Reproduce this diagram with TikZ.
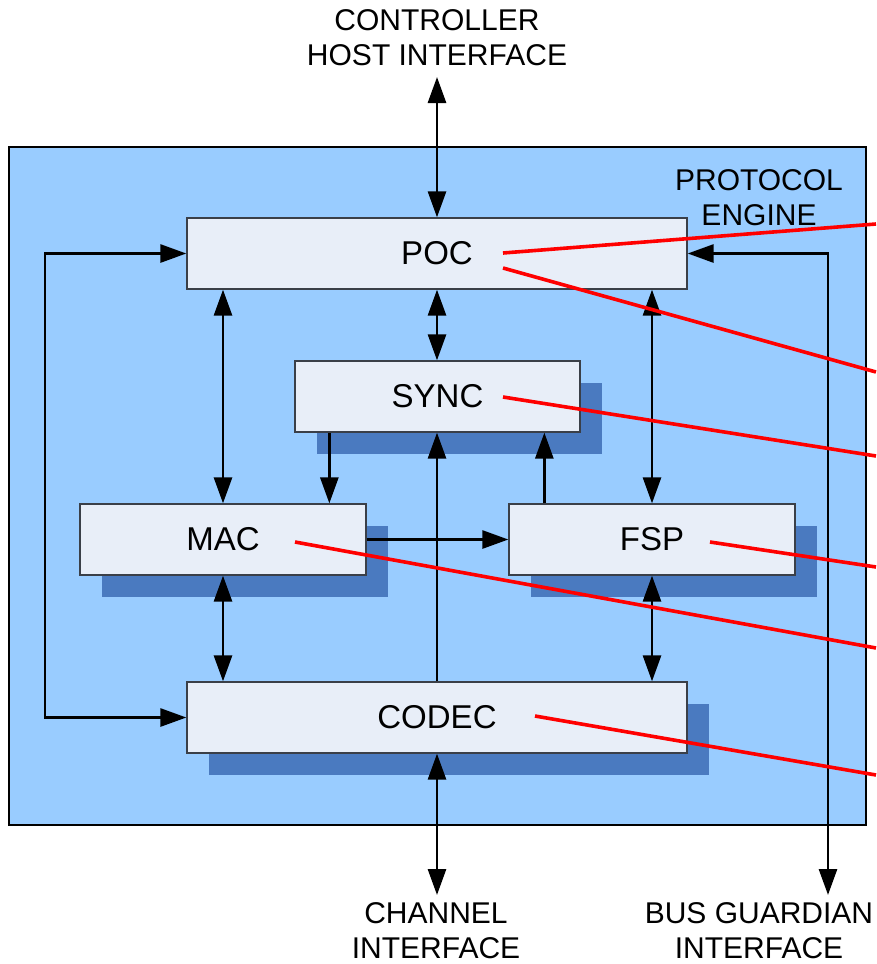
\documentclass[tikz,border=0pt]{standalone}
\usepackage{fontspec}
\setmainfont{Liberation Sans}
\usetikzlibrary{arrows.meta,shadows}
\definecolor{enginefill}{HTML}{99CCFF}
\definecolor{boxfill}{HTML}{E8EEF8}
\definecolor{shadowblue}{HTML}{4A7AC0}
\definecolor{boxline}{HTML}{3A3F48}
\begin{document}
\begin{tikzpicture}[x=1pt,y=-1pt,
  blk/.style={draw=boxline, fill=boxfill, line width=1.3pt, inner sep=0pt,
    minimum height=71pt, font=\fontsize{33}{33}\selectfont},
  shad/.style={general shadow={shadow xshift=22pt, shadow yshift=-22pt, fill=shadowblue}},
  lbl/.style={align=center, inner sep=0pt, font=\fontsize{30}{35}\selectfont},
  conn/.style={line width=2.8pt, -{Triangle[length=26pt,width=18pt]}},
  dconn/.style={line width=2.8pt, {Triangle[length=26pt,width=18pt]}-{Triangle[length=26pt,width=18pt]}},
  redline/.style={draw=red, line width=3.6pt}]
\useasboundingbox (0,0) rectangle (876,964);
% protocol engine area
\node[draw=black, fill=enginefill, line width=1.3pt, minimum width=857pt, minimum height=678pt, inner sep=0pt] (engine) at (437.5,486) {};
\node[lbl] (pelbl) at (759,198) {PROTOCOL\\ENGINE};
% blocks
\node[blk, minimum width=500pt] (poc) at (437,253.5) {POC};
\node[blk, shad, minimum width=285pt] (sync) at (437.5,396.5) {SYNC};
\node[blk, shad, minimum width=286pt] (mac) at (223,539.5) {MAC};
\node[blk, shad, minimum width=286pt] (fsp) at (652,539.5) {FSP};
\node[blk, shad, minimum width=500pt] (codec) at (437,717.5) {CODEC};
% outside labels
\node[lbl] (chilbl) at (437,38) {CONTROLLER\\HOST INTERFACE};
\node[lbl] (chlbl) at (436,931) {CHANNEL\\INTERFACE};
\node[lbl] (bglbl) at (759,931) {BUS GUARDIAN\\INTERFACE};
% free-end coordinates
\coordinate (chi) at (437,77);
\coordinate (chan) at (437,895);
\coordinate (bg) at (828,895);
\coordinate (bgc) at (828,253.5);
\coordinate (lc) at (45,253.5);
\coordinate (s1) at ([xshift=35pt]sync.south west);
\coordinate (f1) at ([xshift=36pt]fsp.north west);
% connectors
\draw[dconn] (chi) -- (poc.north);
\draw[dconn] (poc.south) -- (poc.south |- sync.north);
\draw[dconn] (mac.north) -- (mac.north |- poc.south);
\draw[dconn] (fsp.north) -- (fsp.north |- poc.south);
\draw[dconn] (poc.west) -- (lc) |- (codec.west);
\draw[dconn] (poc.east) -- (bgc) -- (bg);
\draw[conn] (s1) -- (s1 |- mac.north);
\draw[conn] (codec.north) -- (codec.north |- sync.south);
\draw[conn] (f1) -- (f1 |- sync.south);
\draw[conn] (mac.east) -- (fsp.west);
\draw[dconn] (mac.south) -- (mac.south |- codec.north);
\draw[dconn] (fsp.south) -- (fsp.south |- codec.north);
\draw[dconn] (codec.south) -- (chan);
% red callout lines
\coordinate (r1a) at (503,253);  \coordinate (r1b) at (876,224);
\coordinate (r2a) at (503,268);  \coordinate (r2b) at (876,372);
\coordinate (r3a) at (503,397);  \coordinate (r3b) at (876,456);
\coordinate (r4a) at (710,542);  \coordinate (r4b) at (876,567);
\coordinate (r5a) at (295,542);  \coordinate (r5b) at (876,648);
\coordinate (r6a) at (535,716);  \coordinate (r6b) at (876,775);
\draw[redline] (r1a) -- (r1b);
\draw[redline] (r2a) -- (r2b);
\draw[redline] (r3a) -- (r3b);
\draw[redline] (r4a) -- (r4b);
\draw[redline] (r5a) -- (r5b);
\draw[redline] (r6a) -- (r6b);
\end{tikzpicture}
\end{document}
